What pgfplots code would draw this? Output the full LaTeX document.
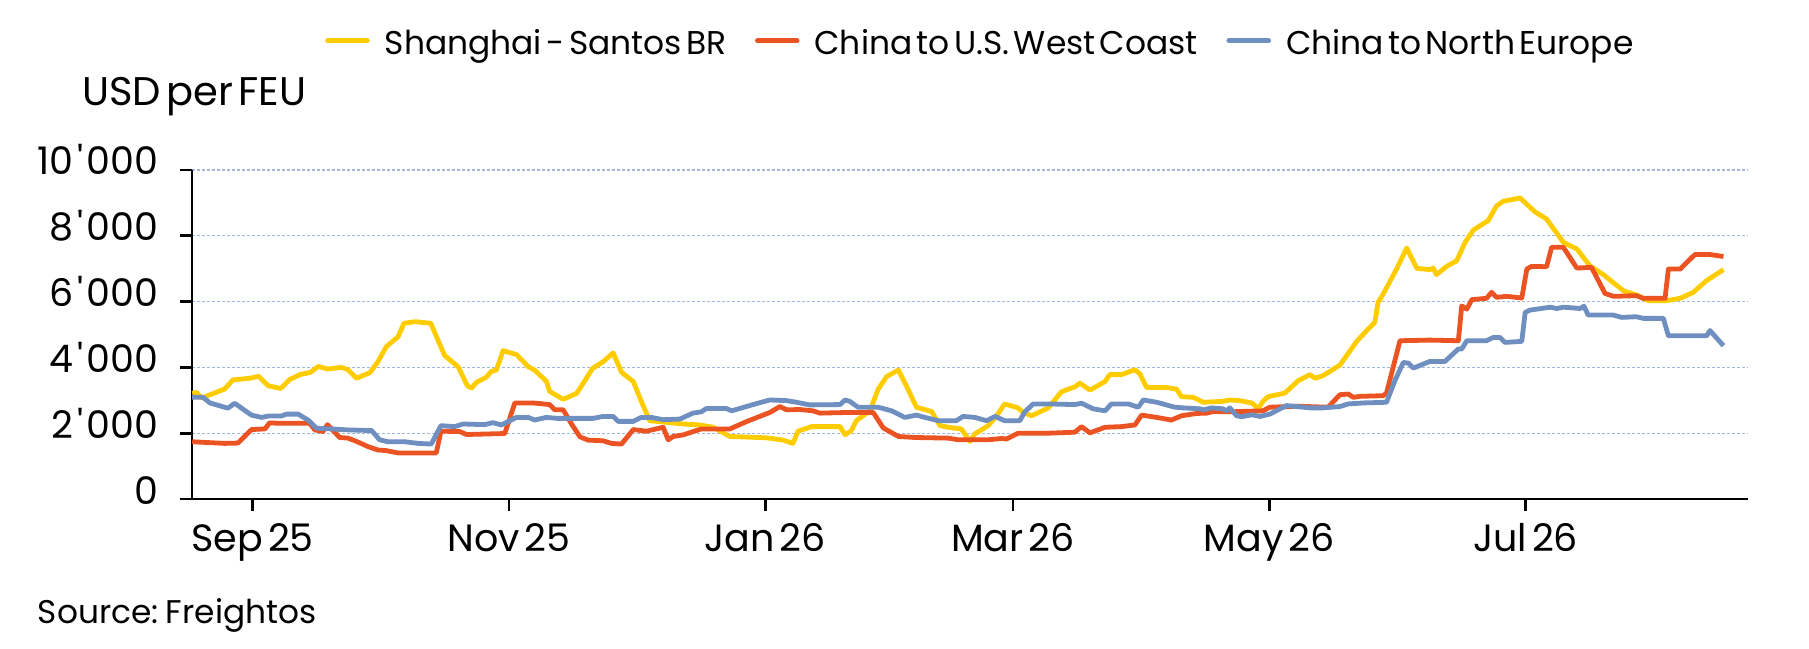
\documentclass[border=0pt]{standalone}
\usepackage{fontspec}
\setmainfont{Poppins}[WordSpace=0.5]
\usepackage{pgfplots}
\usepackage{pgfplotstable}
\pgfplotsset{compat=1.18}
\definecolor{cy}{HTML}{FFCC00}
\definecolor{cr}{HTML}{EC5322}
\definecolor{cb}{HTML}{6F8FC0}
\definecolor{gridc}{HTML}{A3B7DA}
\newcommand{\ap}{\kern1.8pt\textquotesingle\kern1.8pt}

\pgfplotstableread{
d v
-14.4 3210
-13.4 3240
-12.2 3070
-6.7 3340
-4.7 3620
-0.7 3670
1.4 3730
3.7 3440
6.7 3360
8.8 3630
11.2 3780
13.8 3850
15.6 4030
17.9 3950
21.1 4000
22.7 3930
24.7 3670
27.9 3840
29.8 4170
31.8 4630
34.6 4930
36.0 5340
38.6 5390
42.4 5340
44.0 4860
45.7 4360
48.9 4020
51.1 3440
52.1 3370
53.3 3550
55.6 3700
56.8 3880
58.0 3920
59.6 4510
62.8 4390
65.6 4020
67.1 3920
69.9 3580
70.7 3270
73.9 3030
77.1 3210
78.6 3500
80.9 3970
83.4 4170
85.8 4440
87.8 3850
90.6 3570
92.5 2970
94.5 2380
98.5 2330
102.5 2280
106.4 2250
109.6 2180
113.6 1900
116.0 1890
122.3 1860
126.3 1790
128.6 1690
129.8 2060
133.0 2200
139.8 2200
141.0 1950
142.5 2080
143.7 2380
146.9 2680
148.9 3340
150.9 3720
153.7 3920
155.6 3440
158.0 2790
161.6 2660
163.6 2230
165.6 2180
168.7 2130
170.7 1750
171.9 1980
175.1 2230
177.1 2530
179.0 2890
182.2 2770
183.4 2630
185.4 2530
189.4 2770
192.5 3260
195.7 3410
196.9 3520
199.3 3310
202.9 3570
204.0 3780
206.8 3780
210.0 3930
211.2 3800
212.8 3390
217.5 3390
219.9 3340
221.1 3110
223.9 3090
226.3 2940
231.0 2970
232.6 3010
235.0 2990
237.8 2920
239.4 2750
240.5 2970
241.7 3110
245.7 3220
248.9 3600
251.7 3780
252.9 3670
254.8 3750
258.8 4070
262.8 4790
265.2 5120
267.1 5370
267.9 5980
269.1 6230
272.3 6990
274.7 7630
277.1 7010
280.2 6970
281.0 7020
281.8 6820
284.2 7070
286.6 7240
288.6 7800
290.6 8180
294.1 8460
296.1 8910
297.7 9050
301.7 9150
305.2 8730
308.0 8510
312.0 7800
315.2 7600
318.3 7090
321.5 6820
326.3 6330
329.4 6200
332.2 6030
336.6 6030
339.8 6100
342.9 6280
346.1 6640
350.1 6970
}\santos

\pgfplotstableread{
d v
-14.4 1740
-6.7 1690
-3.5 1700
-0.3 2110
2.9 2130
4.0 2310
7.6 2300
13.6 2300
14.8 2100
16.7 2050
17.8 2260
20.7 1870
22.7 1850
24.7 1750
27.5 1590
29.8 1490
31.8 1470
34.6 1400
43.7 1400
44.8 2060
49.3 2050
50.9 1960
60.0 1990
62.4 2920
66.7 2920
70.7 2870
71.9 2710
73.9 2710
75.9 2280
77.9 1890
79.8 1790
83.4 1770
85.4 1690
87.8 1670
90.6 2110
93.7 2060
97.7 2180
98.9 1800
100.1 1900
102.5 1950
106.8 2130
113.6 2130
117.5 2350
123.1 2630
125.5 2810
127.1 2710
130.2 2720
133.4 2680
135.0 2610
141.7 2630
147.7 2630
150.1 2160
153.7 1900
157.6 1870
165.6 1850
167.9 1800
175.1 1800
178.3 1840
179.4 1820
182.2 2000
189.4 2000
195.7 2030
197.3 2200
199.3 2010
202.9 2180
206.8 2200
210.0 2250
211.6 2550
215.2 2480
218.7 2400
221.1 2530
224.7 2600
227.1 2610
228.6 2660
232.6 2650
240.5 2680
242.1 2790
248.5 2820
256.0 2790
258.8 3170
260.8 3190
262.0 3090
263.6 3120
269.1 3140
269.9 3220
273.1 4810
280.2 4830
287.0 4810
287.8 5870
289.0 5770
290.2 6060
293.7 6100
294.9 6280
296.1 6130
298.5 6160
302.1 6110
303.3 6990
304.4 7070
308.0 7060
309.2 7650
312.0 7650
315.2 7020
318.7 7040
321.9 6250
323.9 6160
329.4 6180
331.0 6100
336.2 6100
337.0 6990
339.8 6990
343.3 7430
346.9 7430
350.1 7370
}\uswc

\pgfplotstableread{
d v
-14.4 3090
-11.8 3090
-10.2 2920
-5.9 2760
-4.3 2910
-0.3 2550
2.1 2480
3.7 2520
6.8 2520
8.0 2580
10.8 2580
13.2 2400
15.2 2150
18.7 2130
22.7 2100
28.3 2080
30.2 1800
32.2 1740
36.2 1740
39.4 1690
42.5 1670
44.8 2230
48.1 2200
50.1 2280
55.2 2260
57.2 2320
59.2 2250
62.8 2480
65.6 2480
67.1 2400
69.9 2480
72.6 2450
81.0 2450
83.4 2510
85.8 2510
87.0 2360
90.6 2360
92.5 2480
94.9 2480
97.7 2410
101.7 2430
104.8 2610
106.8 2650
108.0 2750
112.8 2750
114.0 2680
119.1 2870
123.1 3010
127.1 2990
129.4 2940
132.6 2860
139.8 2870
141.0 3010
142.1 2970
144.1 2790
148.9 2790
152.1 2680
155.2 2480
158.0 2550
160.0 2480
163.2 2380
167.5 2380
169.1 2510
171.9 2480
174.7 2380
176.7 2510
179.0 2380
182.6 2380
183.8 2650
185.8 2890
189.4 2890
195.7 2870
197.3 2910
200.1 2740
202.9 2680
204.4 2890
208.4 2890
210.8 2790
212.0 3010
215.2 2940
219.5 2790
221.5 2770
225.5 2740
226.3 2710
228.3 2770
231.0 2740
231.8 2680
232.6 2770
234.2 2530
235.4 2500
237.8 2560
239.8 2510
242.1 2580
246.1 2840
248.5 2810
251.7 2770
254.8 2770
258.8 2810
260.8 2890
264.4 2920
269.9 2940
271.9 3600
273.9 4150
275.1 4130
276.3 3980
280.2 4180
283.8 4180
287.0 4560
287.8 4560
289.0 4810
293.7 4810
295.3 4910
296.9 4910
298.1 4760
302.1 4790
302.9 5670
304.0 5740
308.8 5830
310.4 5790
312.0 5830
316.0 5790
316.9 5860
317.9 5590
323.9 5590
325.9 5520
329.4 5540
331.0 5490
335.8 5490
337.0 4960
346.1 4960
346.9 5120
350.1 4660
}\neur

\begin{document}
\begin{tikzpicture}[font=\fontsize{19}{22}\selectfont]
\begin{axis}[
  at={(0,0)}, anchor=south west,
  scale only axis, width=778pt, height=164.5pt,
  xmin=-14.45, xmax=355.95, ymin=0, ymax=10000,
  scaled y ticks=false,
  axis lines=left,
  axis line style={line width=1.3pt, black, -},
  xtick={0,61,122,181,242,303},
  xticklabels={Sep 25,Nov 25,Jan 26,Mar 26,May 26,Jul 26},
  ytick={0,2000,4000,6000,8000,10000},
  yticklabels={0,2\ap000,4\ap000,6\ap000,8\ap000,10\ap000},
  ymajorgrids,
  grid style={gridc, line width=0.6pt, dash pattern=on 1.5pt off 1pt},
  tick align=outside, major tick length=6pt,
  tick style={line width=1.3pt, black},
  xticklabel style={anchor=north, inner sep=0pt, text height=13.9pt, text depth=0pt, yshift=-6pt},
  yticklabel style={anchor=east, inner sep=0pt, text height=13.5pt, text depth=0pt, xshift=-10.5pt, yshift=4.25pt},
  legend columns=3,
  legend style={draw=none, fill=none, inner sep=0pt, outer sep=0pt,
    font=\fontsize{16.45}{20}\selectfont,
    nodes={inner sep=0pt, outer sep=0pt, text height=12pt, text depth=3.5pt},
    /tikz/every odd column/.append style={column sep=7.5pt},
    /tikz/every even column/.append style={column sep=14.3pt},
    at={(66.6pt,226.6pt)}, anchor=west},
  legend image code/.code={\draw[#1, line width=2.5pt, line cap=round] (0pt,2.5pt)--(19.8pt,2.5pt);},
  clip=false,
]
\addplot[cy, line width=2.4pt, line join=round] table[x=d,y=v] {\santos};
\addlegendentry{Shanghai - Santos BR}
\addplot[cr, line width=2.4pt, line join=round] table[x=d,y=v] {\uswc};
\addlegendentry{China to U.S. West Coast}
\addplot[cb, line width=2.4pt, line join=round] table[x=d,y=v] {\neur};
\addlegendentry{China to North Europe}
\end{axis}
\node[anchor=base west, inner sep=0pt, font=\fontsize{20}{23}\selectfont] at (-55pt,196.5pt) {USD per FEU};
\node[anchor=base west, inner sep=0pt, font=\fontsize{16.4}{19}\selectfont] at (-77.2pt,-62.2pt) {Source: Freightos};
\pgfresetboundingbox
\useasboundingbox (-96pt,-74.5pt) rectangle (808.5pt,249.5pt);
\end{tikzpicture}
\end{document}
